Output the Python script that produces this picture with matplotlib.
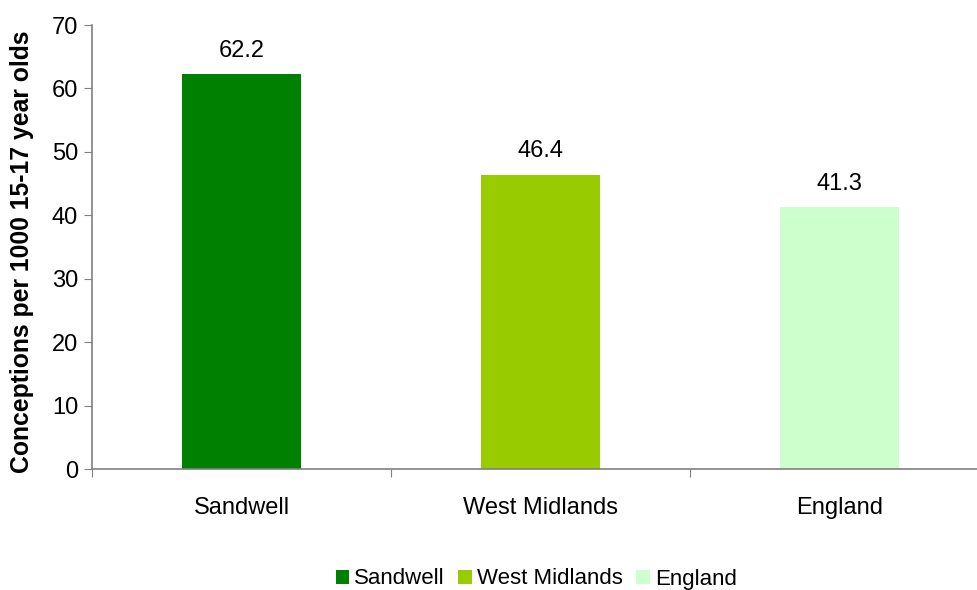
import matplotlib
matplotlib.use('Agg')
import matplotlib.pyplot as plt
from matplotlib.patches import Patch

categories = ['Sandwell', 'West Midlands', 'England']
values = [62.2, 46.4, 41.3]
colors = ['#008000', '#99CC00', '#CCFFCC']
yticks = [0, 10, 20, 30, 40, 50, 60, 70]

plt.rcParams['font.family'] = ['Liberation Sans', 'DejaVu Sans']

fig = plt.figure(figsize=(9.77, 5.90), dpi=100, facecolor='white')
ax = fig.add_axes([92/977, 1 - 469/590, 1 - 92/977, (469 - 25)/590])

x = range(len(categories))
bars = ax.bar(x, values, width=0.40, color=colors, zorder=2)
for xi, v in zip(x, values):
    ax.annotate(f'{v:.1f}', (xi, v), xytext=(0, 9), textcoords='offset points',
                ha='center', va='bottom', fontsize=17)

ax.set_ylim(0, 70)
ax.set_xlim(-0.5, (977 - 92) / 299 - 0.5)
ax.set_yticks(yticks)
ax.set_yticklabels([str(t) for t in yticks], fontsize=17)

# category ticks at boundaries, labels centred
ax.set_xticks([-0.5, 0.5, 1.5])
ax.set_xticklabels([])
ax.set_xticks(list(x), minor=True)
ax.set_xticklabels(categories, minor=True, fontsize=17)
ax.tick_params(axis='x', which='minor', length=0, pad=20)
ax.tick_params(axis='x', which='major', length=6, color='#808080')
ax.tick_params(axis='y', length=6, color='#808080', pad=4)

for s in ['top', 'right']:
    ax.spines[s].set_visible(False)
ax.spines['left'].set_color('#808080')
ax.spines['bottom'].set_color('#808080')
ax.spines['left'].set_linewidth(1.2)
ax.spines['bottom'].set_linewidth(1.2)

ax.set_ylabel('Conceptions per 1000 15-17 year olds', fontsize=17.8, fontweight='bold')
ax.yaxis.set_label_coords(-0.066, 0.49)

handles = [Patch(facecolor=c, label=l) for c, l in zip(colors, categories)]
fig.legend(handles=handles, loc='center', bbox_to_anchor=(0.549, 1 - 579/590), ncol=3,
           frameon=False, fontsize=16, handlelength=0.6, handleheight=0.6,
           handletextpad=0.25, columnspacing=0.6, borderaxespad=0)

fig.savefig('out.png', dpi=100)
